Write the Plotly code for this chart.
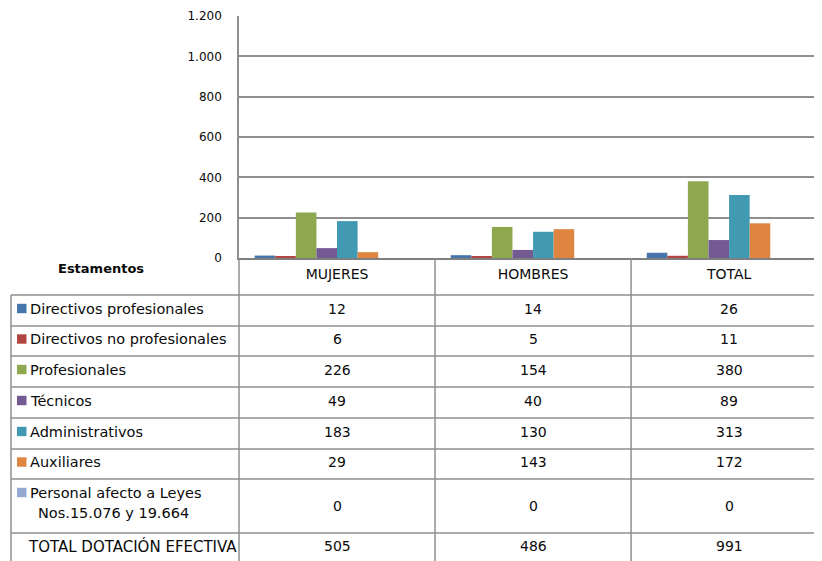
import plotly.graph_objects as go

# ---------------- data ----------------
categories = ["MUJERES", "HOMBRES", "TOTAL"]
series_names = [
    "Directivos profesionales",
    "Directivos no profesionales",
    "Profesionales",
    "Técnicos",
    "Administrativos",
    "Auxiliares",
    "Personal afecto a Leyes",
]
directivos_profesionales = [12, 14, 26]
directivos_no_profesionales = [6, 5, 11]
profesionales = [226, 154, 380]
tecnicos = [49, 40, 89]
administrativos = [183, 130, 313]
auxiliares = [29, 143, 172]
personal_leyes = [0, 0, 0]
total_dotacion = [505, 486, 991]
y_ticks = [0, 200, 400, 600, 800, 1000, 1200]

series_values = [
    directivos_profesionales,
    directivos_no_profesionales,
    profesionales,
    tecnicos,
    administrativos,
    auxiliares,
    personal_leyes,
]
colors = ["#4674AB", "#B24542", "#8DA84F", "#735A93", "#4299B2", "#DE8641", "#93A9D0"]

# ---------------- geometry helpers (reference page pixels) ----------------
OFF = 8                      # default page body margin
W, H = 822 - OFF, 561 - OFF  # figure size
L_REF, T_REF = 239, 16
PW, PH = 822 - L_REF, 242
BASE_REF = T_REF + PH        # page y of zero line


def py(y):
    return (BASE_REF - y) / PH


def px(x):
    return (x - L_REF) / PW


FONT = "DejaVu Sans"
LINE = "#8f8f8f"
TXT = "#0a0a0a"

fig = go.Figure()
for name, vals, col in zip(series_names, series_values, colors):
    fig.add_trace(go.Bar(x=categories, y=vals, name=name, marker=dict(color=col, line=dict(width=0))))
# the total row is a series as well, drawn without fill
fig.add_trace(go.Bar(x=categories, y=total_dotacion, name="TOTAL DOTACIÓN EFECTIVA",
                     marker=dict(color="rgba(0,0,0,0)", line=dict(width=0)), hoverinfo="skip"))

# ---------------- table ----------------
row_lines = [295, 326, 356, 387, 418, 449, 479, 533]
row_centers = [308.5, 339, 369.5, 400.5, 431.5, 462, 492.5, 546]

shapes = []
for y in row_lines:
    shapes.append(dict(type="line", xref="paper", yref="paper", x0=px(11), x1=1, y0=py(y), y1=py(y),
                       line=dict(color=LINE, width=1.5)))
shapes.append(dict(type="line", xref="paper", yref="paper", x0=px(11), x1=px(11), y0=py(295), y1=py(570),
                   line=dict(color=LINE, width=1.5)))
shapes.append(dict(type="line", xref="paper", yref="paper", x0=0, x1=0, y0=0, y1=py(570),
                   line=dict(color=LINE, width=1.5)))
for xb in [0.5, 1.5]:
    shapes.append(dict(type="line", xref="x", yref="paper", x0=xb, x1=xb, y0=0, y1=py(570),
                       line=dict(color=LINE, width=1.5)))
for i, col in enumerate(colors):
    cy = row_centers[i]
    shapes.append(dict(type="rect", xref="paper", yref="paper", x0=px(17), x1=px(26.5),
                       y0=py(cy + 4.7), y1=py(cy - 4.7), fillcolor=col, line=dict(width=0)))

LBL = 14.5
annotations = []
for i, txt in enumerate(series_names):
    annotations.append(dict(text=txt, xref="paper", yref="paper", x=px(28), y=py(row_centers[i]),
                            xanchor="left", yanchor="middle", showarrow=False,
                            font=dict(family=FONT, size=LBL, color=TXT)))
annotations.append(dict(text="Nos.15.076 y 19.664", xref="paper", yref="paper", x=px(35.5), y=py(513),
                        xanchor="left", yanchor="middle", showarrow=False,
                        font=dict(family=FONT, size=LBL, color=TXT)))
annotations.append(dict(text="TOTAL DOTACIÓN EFECTIVA", xref="paper", yref="paper", x=px(25.5), y=py(546),
                        xanchor="left", yanchor="middle", showarrow=False,
                        font=dict(family=FONT, size=15, color=TXT)))
annotations.append(dict(text="<b>Estamentos</b>", xref="paper", yref="paper", x=px(101), y=py(268),
                        xanchor="center", yanchor="middle", showarrow=False,
                        font=dict(family=FONT, size=13, color=TXT)))

value_rows = series_values + [total_dotacion]
value_centers = row_centers[:6] + [506, 546]
for r, vals in enumerate(value_rows):
    for c, v in enumerate(vals):
        annotations.append(dict(text=str(v), xref="x", yref="paper", x=categories[c], y=py(value_centers[r]),
                                xanchor="center", yanchor="middle", showarrow=False,
                                font=dict(family=FONT, size=14, color=TXT)))

fig.update_layout(
    width=W, height=H,
    margin=dict(l=L_REF - OFF, r=0, t=T_REF - OFF, b=H - (BASE_REF - OFF), pad=0),
    paper_bgcolor="white", plot_bgcolor="white",
    barmode="group", bargap=0.16, bargroupgap=0,
    showlegend=False,
    separators=",.",
    shapes=shapes,
    annotations=annotations,
    font=dict(family=FONT, size=12, color=TXT),
)
fig.update_yaxes(
    range=[0, 1200], tickvals=y_ticks, tickformat=",d",
    showgrid=True, gridcolor=LINE, gridwidth=1.5,
    showline=True, linecolor=LINE, linewidth=1.5,
    zeroline=False, ticks="", ticklabelstandoff=13,
    tickfont=dict(family=FONT, size=12, color=TXT),
)
fig.update_xaxes(
    range=[-0.5, 2.474], showgrid=False,
    showline=True, linecolor="#7f7f7f", linewidth=2,
    ticks="", ticklabelstandoff=2,
    tickfont=dict(family=FONT, size=14, color=TXT),
)

fig.write_html("out.html")
